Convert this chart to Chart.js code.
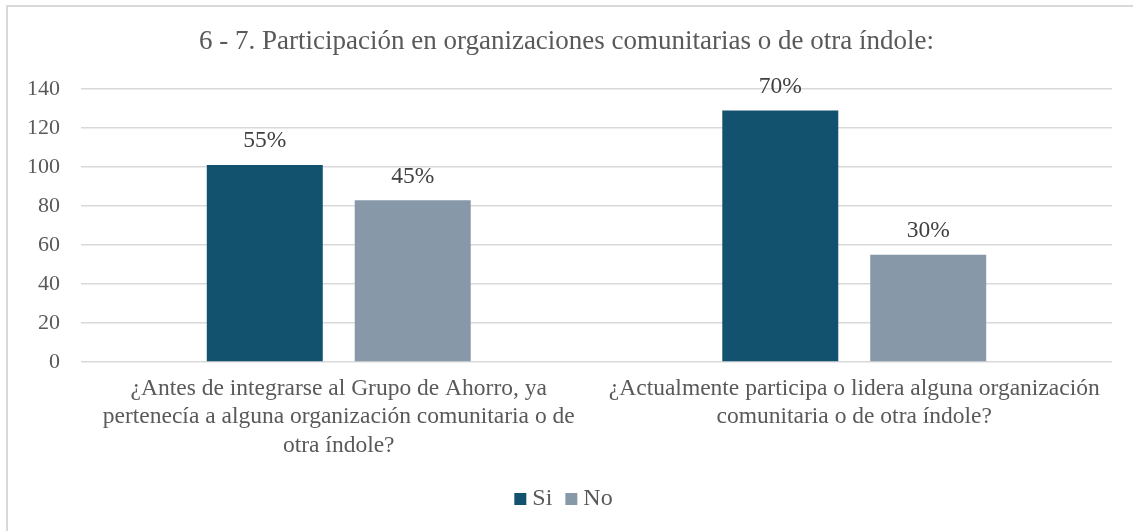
<!DOCTYPE html>
<html>
<head>
<meta charset="utf-8">
<script src="https://cdn.jsdelivr.net/npm/chart.js@4"></script>
<style>
  html, body { margin: 0; padding: 0; background: #fff; overflow: hidden; }
  #frame { position: absolute; left: 6px; top: 5px; width: 1140px; height: 540px; border: 2px solid #d9d9d9; box-sizing: border-box; }
  #wrap { position: absolute; left: 0; top: 0; width: 1133px; height: 531px; }
</style>
</head>
<body>
<div id="frame"></div>
<div id="wrap"><canvas id="myChart"></canvas></div>
<script>
const categories = [
    ['¿Antes de integrarse al Grupo de Ahorro, ya', 'pertenecía a alguna organización comunitaria o de', 'otra índole?'],
    ['¿Actualmente participa o lidera alguna organización', 'comunitaria o de otra índole?']
];
const si_values = [101, 129];
const no_values = [83, 55];
const y_ticks = [0, 20, 40, 60, 80, 100, 120, 140];

const serif = "'Liberation Serif', 'Times New Roman', serif";

// percent labels above each bar, share of the category total
const pctLabels = {
    id: 'pctLabels',
    afterDatasetsDraw(chart) {
        const ctx = chart.ctx;
        ctx.save();
        ctx.font = '23.5px ' + serif;
        ctx.fillStyle = '#404040';
        ctx.textAlign = 'center';
        ctx.textBaseline = 'bottom';
        chart.data.datasets.forEach(function (ds, i) {
            const meta = chart.getDatasetMeta(i);
            meta.data.forEach(function (bar, j) {
                let total = 0;
                chart.data.datasets.forEach(function (d) { total += d.data[j]; });
                const pct = Math.round(ds.data[j] / total * 100) + '%';
                ctx.fillText(pct, bar.x, bar.y - 12);
            });
        });
        ctx.restore();
    }
};

const data = {
    labels: categories,
    datasets: [{
        label: 'Si',
        backgroundColor: '#13526f',
        data: si_values,
        barPercentage: 0.784,
        categoryPercentage: 0.574,
    }, {
        label: 'No',
        backgroundColor: '#8798a9',
        data: no_values,
        barPercentage: 0.784,
        categoryPercentage: 0.574,
    }],
};

const config = {
    type: 'bar',
    data: data,
    plugins: [pctLabels],
    options: {
        responsive: true,
        maintainAspectRatio: false,
        animation: false,
        layout: { padding: { left: 21, right: 21, top: 8, bottom: 10 } },
        plugins: {
            title: {
                display: true,
                text: '6 - 7. Participación en organizaciones comunitarias o de otra índole:',
                color: '#595959',
                font: { family: serif, size: 27, weight: 'normal' },
                padding: { top: 18, bottom: 30.6 },
            },
            legend: {
                position: 'bottom',
                labels: {
                    color: '#595959',
                    font: { family: serif, size: 24 },
                    // tiny box width + rect point style keeps the square close to its text
                    usePointStyle: true,
                    pointStyle: 'rect',
                    boxWidth: 0.01,
                    boxHeight: 12,
                    padding: 19,
                },
            },
            tooltip: { enabled: false },
        },
        scales: {
            x: {
                grid: { display: false, drawTicks: false },
                border: { display: false },
                afterFit: function (axis) { axis.height = 106; },
                ticks: {
                    color: '#595959',
                    font: { family: serif, size: 23.5, lineHeight: 1.2 },
                    maxRotation: 0,
                    autoSkip: false,
                    padding: 13,
                },
            },
            y: {
                min: 0,
                max: 140,
                afterBuildTicks: function (axis) {
                    axis.ticks = y_ticks.map(function (v) { return { value: v }; });
                },
                afterFit: function (axis) { axis.width = 60; },
                grid: { color: '#d9d9d9', lineWidth: 1.5, drawTicks: false },
                border: { display: false },
                ticks: {
                    color: '#595959',
                    font: { family: serif, size: 22 },
                    padding: 21,
                },
            },
        },
    },
};

const myChart = new Chart(document.getElementById('myChart'), config);
</script>
</body>
</html>
